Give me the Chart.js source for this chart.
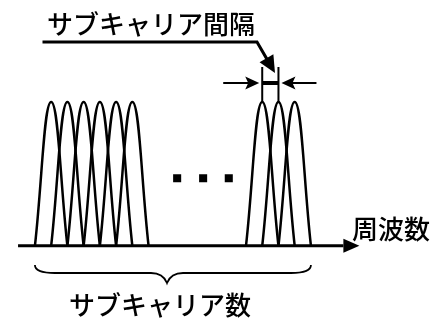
<!DOCTYPE html>
<html>
<head>
<meta charset="utf-8">
<script src="https://cdn.jsdelivr.net/npm/chart.js@4/dist/chart.umd.min.js"></script>
<style>
  html, body { margin: 0; padding: 0; background: #fff; }
  canvas { display: block; }
</style>
</head>
<body>
<canvas id="ofdm-chart" width="441" height="320"></canvas>
<script>
// subcarrier centre frequencies, in units of the subcarrier spacing
const leftCarriers = [0, 1, 2, 3, 4, 5];
const rightCarriers = [13, 14, 15];
const peakLevel = 1;

// the "..." between the two groups
const ellipsisX = [7.76, 9.36, 10.94];
const ellipsisLevel = 0.47;

// frequency axis (start, end of shaft)
const axisRange = [-2.04, 18.0];

// labels
const spacingLabel = 'サブキャリア間隔';
const axisLabel = '周波数';
const countLabel = 'サブキャリア数';

// each subcarrier: zero at its neighbours, peak at its own frequency
const carrierSet = c => ({
    data: [{ x: c - 1, y: 0 }, { x: c, y: peakLevel }, { x: c + 1, y: 0 }],
    borderColor: '#000',
    borderWidth: 2.5,
    tension: 0.45,
    pointRadius: 0,
    fill: false
});

const datasets = [
    ...leftCarriers.map(carrierSet),
    ...rightCarriers.map(carrierSet),
    {
        // frequency axis
        data: axisRange.map(v => ({ x: v, y: 0 })),
        borderColor: '#000',
        borderWidth: 3,
        pointRadius: 0,
        tension: 0
    },
    {
        // ellipsis dots
        data: ellipsisX.map(v => ({ x: v, y: ellipsisLevel })),
        showLine: false,
        pointStyle: 'rect',
        pointRadius: 5.7,
        pointBackgroundColor: '#000',
        pointBorderWidth: 0
    }
];

// small filled arrow head, tip at (tx, ty)
function arrowHead(ctx, tx, ty, angle, len, half, notch) {
    ctx.save();
    ctx.translate(tx, ty);
    ctx.rotate(angle);
    ctx.beginPath();
    ctx.moveTo(0, 0);
    ctx.lineTo(-len, -half);
    ctx.lineTo(-len + notch, 0);
    ctx.lineTo(-len, half);
    ctx.closePath();
    ctx.fill();
    ctx.restore();
}

const annotations = {
    id: 'annotations',
    afterDatasetsDraw(chart) {
        const { ctx, scales: { x, y } } = chart;
        const px = v => x.getPixelForValue(v);
        const py = v => y.getPixelForValue(v);
        ctx.save();
        ctx.fillStyle = '#000';
        ctx.strokeStyle = '#000';

        // axis arrow head
        const axisY = py(0);
        arrowHead(ctx, px(axisRange[1]) + 16, axisY, 0, 16, 7, 0);

        // spacing marker on the first two carriers of the right group
        const a = px(rightCarriers[0]), b = px(rightCarriers[1]);
        const top = 67, barY = 83;
        ctx.lineWidth = 2;
        ctx.beginPath();
        ctx.moveTo(a, py(peakLevel)); ctx.lineTo(a, top);
        ctx.moveTo(b, py(peakLevel)); ctx.lineTo(b, top);
        ctx.stroke();
        ctx.lineWidth = 4;
        ctx.beginPath();
        ctx.moveTo(a, barY); ctx.lineTo(b, barY);
        ctx.stroke();
        ctx.lineWidth = 2;
        ctx.beginPath();
        ctx.moveTo(a - 39, barY); ctx.lineTo(a - 10, barY);
        ctx.moveTo(b + 38, barY); ctx.lineTo(b + 10, barY);
        ctx.stroke();
        arrowHead(ctx, a - 3, barY, 0, 14, 6.5, 3);
        arrowHead(ctx, b + 3, barY, Math.PI, 14, 6.5, 3);

        // leader line from the label to the marker
        const tipX = 275, tipY = 73, cornerX = 257, lineY = 42;
        const ang = Math.atan2(tipY - lineY, tipX - cornerX);
        ctx.lineWidth = 3;
        ctx.beginPath();
        ctx.moveTo(42.5, lineY);
        ctx.lineTo(cornerX, lineY);
        ctx.lineTo(tipX - 12 * Math.cos(ang), tipY - 12 * Math.sin(ang));
        ctx.stroke();
        arrowHead(ctx, tipX, tipY, ang, 17, 8, 0);

        // brace under all subcarriers
        const x0 = px(leftCarriers[0] - 1), x1 = px(rightCarriers[rightCarriers.length - 1] + 1);
        const mid = 167, by = 273;
        ctx.lineWidth = 1.8;
        ctx.beginPath();
        ctx.moveTo(x0, 265);
        ctx.quadraticCurveTo(x0, by, x0 + 20, by);
        ctx.lineTo(mid - 16, by);
        ctx.quadraticCurveTo(mid - 4, by, mid, 283);
        ctx.quadraticCurveTo(mid + 4, by, mid + 16, by);
        ctx.lineTo(x1 - 20, by);
        ctx.quadraticCurveTo(x1, by, x1, 265);
        ctx.stroke();

        // texts
        ctx.font = '500 26px "Noto Sans CJK JP"';
        ctx.textBaseline = 'middle';
        ctx.textAlign = 'left';
        ctx.fillText(spacingLabel, 47, 24);
        ctx.fillText(axisLabel, 352, 229);
        ctx.fillText(countLabel, 69, 305);
        ctx.restore();
    }
};

new Chart(document.getElementById('ofdm-chart'), {
    type: 'line',
    data: { datasets },
    options: {
        responsive: false,
        animation: false,
        layout: { padding: 0 },
        scales: {
            x: { type: 'linear', min: -2.8, max: 23.66, display: false },
            y: { min: -0.4765, max: 1.671, display: false }
        },
        plugins: {
            legend: { display: false },
            tooltip: { enabled: false }
        }
    },
    plugins: [annotations]
});
</script>
</body>
</html>
